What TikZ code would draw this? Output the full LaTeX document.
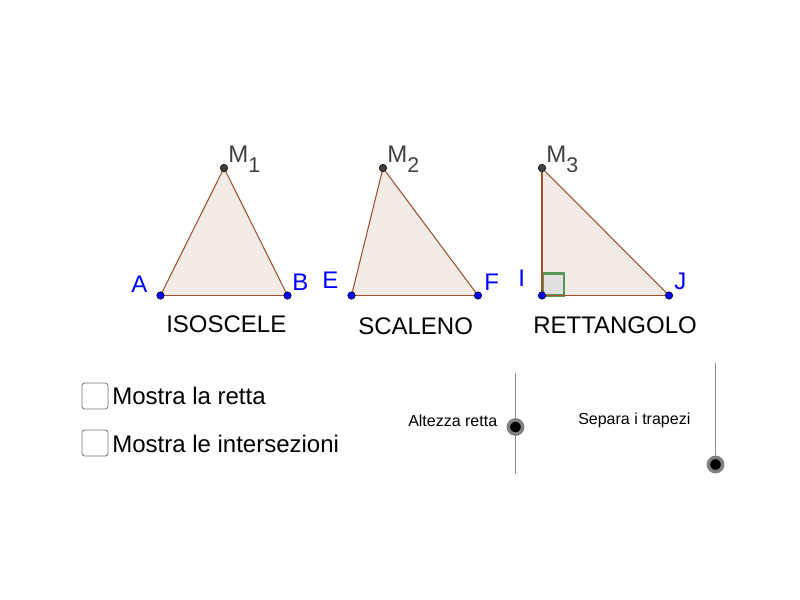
\documentclass[tikz,border=0pt]{standalone}
\usepackage{fontspec}
\setmainfont{Liberation Sans}
\usepackage{tikz}
\definecolor{sidecol}{RGB}{160,82,45}
\definecolor{facecol}{RGB}{243,235,230}
\definecolor{topcol}{RGB}{64,64,64}
\definecolor{rightcol}{RGB}{88,150,88}
\tikzstyle{basepoint}=[circle,fill=blue,draw=black,line width=0.4pt,minimum size=5.6pt,inner sep=0pt]
\tikzstyle{toppoint}=[circle,fill=topcol,draw=black,line width=0.4pt,minimum size=5.6pt,inner sep=0pt]
\tikzstyle{side} = [draw=sidecol,line width=0.8pt]
\tikzstyle{face} = [fill=facecol]
\tikzstyle{caption} = [anchor=base west,inner sep=0pt,font=\fontsize{18pt}{20pt}\selectfont]
\tikzstyle{pointname} = [caption,text=blue]
\tikzstyle{topname} = [caption,text=topcol]
\tikzstyle{small} = [anchor=base west,inner sep=0pt,font=\fontsize{12pt}{14pt}\selectfont]
\tikzstyle{checkbox} = [draw=black!55,line width=0.6pt,rounded corners=2pt,minimum size=19.5pt,inner sep=0pt]
\tikzstyle{track} = [draw=black!45,line width=0.7pt]
\tikzstyle{knob} = [circle,fill=black,draw=black!50,line width=2.6pt,minimum size=10.7pt,inner sep=0pt]
\tikzstyle{tick} = [inner sep=0pt,minimum size=0pt]

\begin{document}
\begin{tikzpicture}[x=0.75pt,y=-0.75pt]
    \useasboundingbox (0,0) rectangle (800,600);

    % triangles
    \foreach \x/\y/\name in {160.5/295.5/A, 287.5/295.5/B, 351.5/295.5/E, 478/295.5/F, 542/295.5/I, 669/295.5/J, 224/168/Ma, 383/168/Mb, 542/168/Mc}
        \coordinate (\name) at (\x,\y);

    \foreach \one/\two/\three in {A/B/Ma, E/F/Mb, I/J/Mc}
        \path[face] (\one) -- (\two) -- (\three) -- cycle;

    % right angle
    \draw[fill=black!12,draw=rightcol,line width=1.9pt] (542.5,273.5) rectangle (564,295.5);

    \foreach \source/\dest in {A/B, B/Ma, Ma/A, E/F, F/Mb, Mb/E, I/J, J/Mc, Mc/I}
        \path[side] (\source) -- (\dest);

    \foreach \name in {A, B, E, F, I, J}
        \node[basepoint] (p\name) at (\name) {};
    \foreach \name in {Ma, Mb, Mc}
        \node[toppoint] (p\name) at (\name) {};

    % point names
    \foreach \pos/\name/\label in {{(131,292)/nA/A}, {(292,290)/nB/B}, {(322,288)/nE/E}, {(484,290)/nF/F}, {(518,286)/nI/I}, {(674,289)/nJ/J}}
        \node[pointname] (\name) at \pos {\label};
    \foreach \pos/\name/\label in {{(228,162)/nMa/1}, {(387,162)/nMb/2}, {(546,162)/nMc/3}}
        \node[topname] (\name) at \pos {M\raisebox{-7.5pt}{\fontsize{16pt}{18pt}\selectfont\label}};

    % captions
    \foreach \pos/\name/\label in {{(166,332.5)/isos/ISOSCELE}, {(358,334)/scal/SCALENO}, {(533,333)/rett/RETTANGOLO}, {(112,404)/showline/Mostra la retta}, {(112,452)/showint/Mostra le intersezioni}}
        \node[caption] (\name) at \pos {\label};

    % check boxes
    \foreach \pos/\name in {{(95,396)/boxline}, {(95,443)/boxint}}
        \node[checkbox] (\name) at \pos {};

    % sliders
    \node[small] (height) at (408,426) {Altezza retta};
    \node[small] (apart) at (578,424) {Separa i trapezi};
    \foreach \pos/\name in {{(515.5,373)/heighttop}, {(515.5,474)/heightend}, {(715.5,363)/aparttop}, {(715.5,464.5)/apartend}}
        \node[tick] (\name) at \pos {};
    \foreach \source/\dest in {heighttop/heightend, aparttop/apartend}
        \path[track] (\source) -- (\dest);
    \node[knob] (heightknob) at (515.5,427) {};
    \node[knob] (apartknob) at (715.5,464.5) {};
\end{tikzpicture}
\end{document}
